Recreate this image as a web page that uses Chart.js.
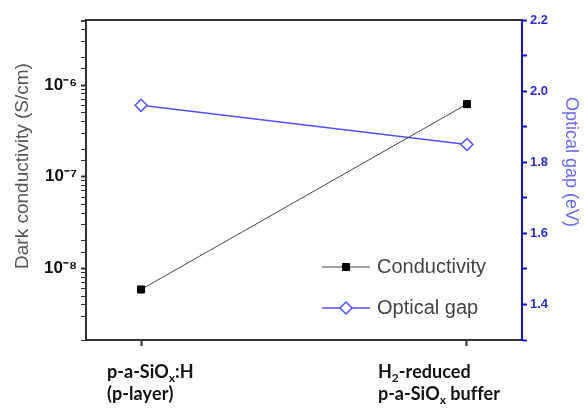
<!DOCTYPE html>
<html><head><meta charset="utf-8">
<script src="https://cdn.jsdelivr.net/npm/chart.js@4.4.1/dist/chart.umd.min.js"></script>
<style>html,body{margin:0;padding:0;background:#fff}#wrap{width:584px;height:410px}</style>
</head><body><div id="wrap"><canvas id="c" width="584" height="410"></canvas></div>
<script>
// ---- data ----
const categories = [['p-a-SiO_x:H', '(p-layer)'], ['H_2-reduced', 'p-a-SiO_x buffer']];
const categoryX = [0, 1];
const conductivity = [5.9e-9, 6.2e-7];      // S/cm
const opticalGap = [1.96, 1.85];             // eV
const leftTickLabels = {'-6': '10\u207B\u2076', '-7': '10\u207B\u2077', '-8': '10\u207B\u2078'};
const rightTickLabels = ['1.4', '1.6', '1.8', '2.0', '2.2'];
const seriesNames = ['Conductivity', 'Optical gap'];
const axisTitles = ['Dark conductivity (S/cm)', 'Optical gap (eV)'];

const frameColor = '#333';
const blue = '#1010f0';

function drawRich(ctx, str, x, y, font, subFont) {
  // '_' marks next char as subscript
  let cx = x;
  for (let i = 0; i < str.length; i++) {
    if (str[i] === '_' && i + 1 < str.length) {
      ctx.font = subFont;
      ctx.fillText(str[i + 1], cx, y + 4);
      cx += ctx.measureText(str[i + 1]).width;
      i++;
    } else {
      ctx.font = font;
      ctx.fillText(str[i], cx, y);
      cx += ctx.measureText(str[i]).width;
    }
  }
}

const extras = {
  id: 'extras',
  afterDraw(chart) {
    const ctx = chart.ctx, a = chart.chartArea, xs = chart.scales.x;
    ctx.save();
    // top frame line
    ctx.strokeStyle = frameColor; ctx.lineWidth = 2;
    ctx.beginPath(); ctx.moveTo(a.left - 1, a.top); ctx.lineTo(a.right, a.top); ctx.stroke();
    // axis titles
    ctx.textAlign = 'center'; ctx.textBaseline = 'middle';
    ctx.font = '19px "Liberation Sans", Arial';
    ctx.fillStyle = '#555';
    ctx.save(); ctx.translate(23, a.top + 146); ctx.rotate(-Math.PI / 2); ctx.fillText(axisTitles[0], 0, 0); ctx.restore();
    ctx.font = '18px "Liberation Sans", Arial';
    ctx.fillStyle = '#6a6af0';
    ctx.save(); ctx.translate(a.right + 49, a.top + 142); ctx.rotate(Math.PI / 2); ctx.fillText(axisTitles[1], 0, 0); ctx.restore();
    // category labels
    ctx.fillStyle = '#111';
    ctx.textBaseline = 'alphabetic'; ctx.textAlign = 'left';
    const shift = [-34, -89];
    categories.forEach((lines, i) => {
      const px = xs.getPixelForValue(categoryX[i]) + shift[i];
      lines.forEach((ln, j) => {
        drawRich(ctx, ln, px, a.bottom + 38 + j * 22, 'bold 18px Lato', 'bold 12px Lato');
      });
    });
    // legend
    const ds = chart.data.datasets;
    const lx0 = a.left + 236, lx1 = a.left + 284, ly = [a.top + 247, a.top + 288];
    ds.forEach((d, i) => {
      ctx.strokeStyle = d.borderColor; ctx.lineWidth = d.borderWidth;
      ctx.beginPath(); ctx.moveTo(lx0, ly[i]); ctx.lineTo(lx1, ly[i]); ctx.stroke();
      ctx.fillStyle = d.pointBackgroundColor; ctx.strokeStyle = d.pointBorderColor; ctx.lineWidth = d.pointBorderWidth;
      Chart.helpers.drawPoint(ctx, {pointStyle: d.pointStyle, radius: d.pointRadius, borderWidth: d.pointBorderWidth}, (lx0 + lx1) / 2, ly[i]);
      ctx.fillStyle = '#444'; ctx.font = '20px "Liberation Sans", Arial';
      ctx.textBaseline = 'middle'; ctx.textAlign = 'left';
      ctx.fillText(d.label, lx1 + 7, ly[i]);
    });
    ctx.restore();
  }
};

new Chart(document.getElementById('c'), {
  type: 'line',
  data: {
    datasets: [
      {
        label: seriesNames[0], yAxisID: 'y',
        data: categoryX.map((x, i) => ({x, y: conductivity[i]})),
        borderColor: '#444', borderWidth: 1,
        pointStyle: 'rect', pointRadius: 5, pointBackgroundColor: '#000', pointBorderColor: '#000', pointBorderWidth: 1
      },
      {
        label: seriesNames[1], yAxisID: 'y2',
        data: categoryX.map((x, i) => ({x, y: opticalGap[i]})),
        borderColor: '#5050ff', borderWidth: 1.5,
        pointStyle: 'rectRot', pointRadius: 6, pointBackgroundColor: '#fff', pointBorderColor: '#5050ff', pointBorderWidth: 1.5
      }
    ]
  },
  options: {
    responsive: false, animation: false,
    layout: {padding: {top: 20, left: 0, right: 0, bottom: 0}},
    plugins: {legend: {display: false}, tooltip: {enabled: false}},
    scales: {
      x: {
        type: 'linear', min: -0.169, max: 1.169,
        afterBuildTicks: s => { s.ticks = categoryX.map(v => ({value: v})); },
        afterFit: s => { s.height = 70; },
        grid: {drawOnChartArea: false, tickLength: 6, tickColor: frameColor, tickWidth: 2},
        border: {color: frameColor, width: 2},
        ticks: {callback: () => '', font: {size: 1}}
      },
      y: {
        type: 'logarithmic', position: 'left',
        min: Math.pow(10, -8.78), max: Math.pow(10, -5.29),
        afterFit: s => { s.width = 86; },
        grid: {drawOnChartArea: false, tickLength: 5, tickColor: frameColor,
          tickWidth: c => { if (!c.tick) return 1; const e = Math.log10(c.tick.value); return Math.abs(e - Math.round(e)) < 1e-6 ? 2 : 1; }},
        border: {color: frameColor, width: 2},
        ticks: {
          color: '#111', font: {size: 17, weight: 'bold', family: '"Liberation Sans", Arial'}, padding: 4, autoSkip: false,
          callback: v => {
            const e = Math.log10(v);
            if (Math.abs(e - Math.round(e)) < 1e-6) return leftTickLabels[String(Math.round(e))] || '';
            return '';
          }
        }
      },
      y2: {
        type: 'linear', position: 'right', min: 1.3, max: 2.2,
        afterFit: s => { s.width = 62; },
        grid: {drawOnChartArea: false, tickLength: 5, tickColor: blue, tickWidth: 2},
        border: {color: blue, width: 2},
        ticks: {
          stepSize: 0.1, color: '#2b2bd8', font: {size: 13, weight: 'bold', family: '"Liberation Sans", Arial'}, padding: 3, autoSkip: false,
          callback: v => { const s = v.toFixed(1); return rightTickLabels.includes(s) ? s : ''; }
        }
      }
    }
  },
  plugins: [extras]
});
</script>
</body></html>
